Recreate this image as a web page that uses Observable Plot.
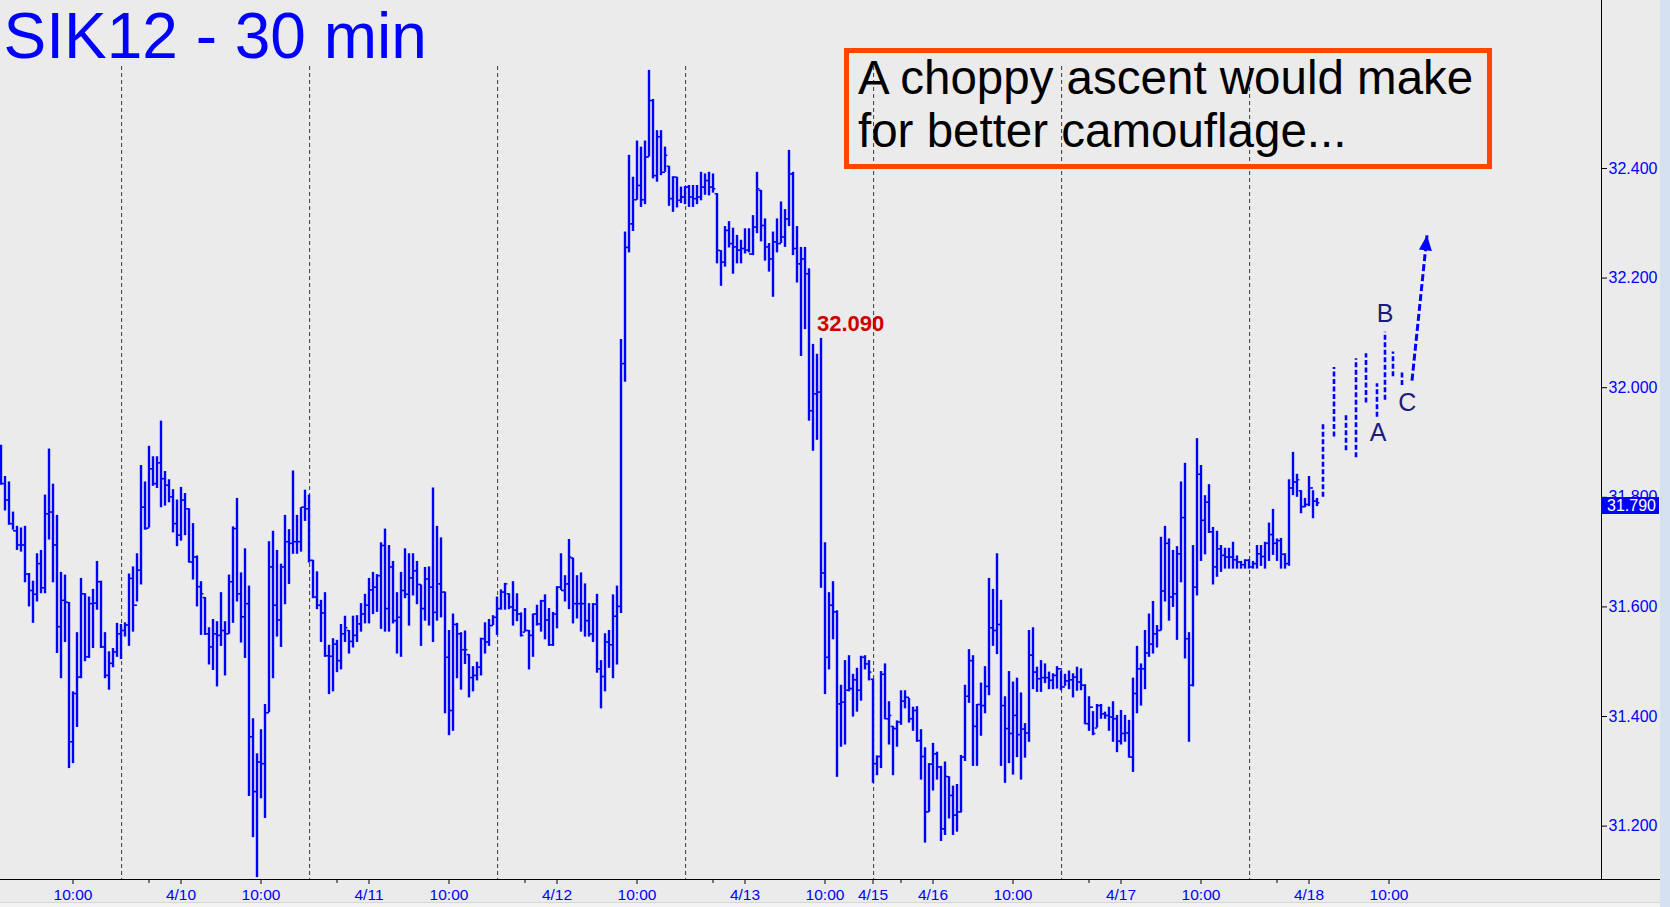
<!DOCTYPE html>
<html>
<head>
<meta charset="utf-8">
<script src="https://cdn.jsdelivr.net/npm/d3@7"></script>
<script src="https://cdn.jsdelivr.net/npm/@observablehq/plot@0.6"></script>
<style>
  html, body { margin: 0; padding: 0; background: #ebebeb; overflow: hidden; }
  #wrap { position: relative; width: 1670px; height: 907px; font-family: "Liberation Sans", Arial, sans-serif; }
  #wrap svg { position: absolute; left: 0; top: 0; }
  .deco { position: absolute; }
  #note { position: absolute; left: 844px; top: 48px; width: 648px; height: 121px; box-sizing: border-box;
          border: 5px solid #ff4500; }
  #noteText { position: absolute; left: 9px; top: -2px; font-size: 47.5px; line-height: 53px; color: #000; white-space: nowrap; }
  #price { position: absolute; left: 1601px; width: 58px; height: 17px; background: #0000ff; color: #fff;
           font-size: 16px; line-height: 17px; padding-left: 6px; box-sizing: border-box; }
</style>
</head>
<body>
<div id="wrap"></div>
<script>
// ---------- DATA ----------
const title = "SIK12 - 30 min";
const noteLines = ["A choppy ascent would make", "for better camouflage..."];

const highs = [
31.895,31.838,31.828,31.773,31.747,31.744,31.747,31.661,31.647,31.697,
31.703,31.804,31.888,31.824,31.767,31.663,31.658,31.608,31.445,31.553,
31.652,31.624,31.618,31.632,31.683,31.647,31.553,31.518,31.524,31.570,
31.568,31.571,31.660,31.673,31.697,31.858,31.828,31.893,31.874,31.874,
31.939,31.847,31.832,31.814,31.795,31.818,31.807,31.779,31.752,31.693,
31.646,31.617,31.562,31.577,31.573,31.626,31.573,31.658,31.746,31.798,
31.662,31.706,31.638,31.396,31.332,31.376,31.422,31.719,31.738,31.703,
31.678,31.767,31.741,31.848,31.767,31.781,31.813,31.804,31.685,31.664,
31.612,31.626,31.530,31.542,31.539,31.568,31.583,31.557,31.583,31.584,
31.606,31.623,31.652,31.663,31.659,31.717,31.742,31.712,31.683,31.626,
31.663,31.706,31.697,31.697,31.683,31.640,31.672,31.673,31.817,31.747,
31.726,31.627,31.557,31.587,31.570,31.553,31.556,31.513,31.491,31.499,
31.543,31.571,31.577,31.584,31.618,31.631,31.643,31.624,31.646,31.624,
31.589,31.597,31.557,31.587,31.603,31.612,31.622,31.597,31.590,31.637,
31.697,31.657,31.723,31.689,31.657,31.662,31.642,31.606,31.606,31.623,
31.502,31.551,31.557,31.622,31.638,32.088,32.284,32.424,32.384,32.450,
32.439,32.450,32.579,32.526,32.469,32.469,32.439,32.404,32.385,32.384,
32.366,32.367,32.369,32.369,32.369,32.393,32.390,32.393,32.390,32.354,
32.250,32.294,32.303,32.291,32.278,32.269,32.290,32.290,32.314,32.393,
32.360,32.308,32.263,32.284,32.308,32.339,32.325,32.433,32.393,32.294,
32.256,32.256,32.217,32.079,32.061,32.090,31.717,31.626,31.646,31.593,
31.457,31.502,31.511,31.477,31.488,31.510,31.511,31.502,31.468,31.328,
31.482,31.496,31.427,31.382,31.392,31.447,31.447,31.433,31.417,31.418,
31.376,31.343,31.314,31.351,31.335,31.309,31.317,31.290,31.273,31.276,
31.329,31.457,31.522,31.511,31.422,31.461,31.491,31.652,31.632,31.697,
31.612,31.436,31.482,31.463,31.470,31.443,31.387,31.557,31.562,31.490,
31.502,31.496,31.481,31.478,31.491,31.483,31.477,31.483,31.478,31.490,
31.487,31.458,31.436,31.409,31.422,31.422,31.408,31.417,31.427,31.402,
31.411,31.402,31.393,31.470,31.528,31.496,31.557,31.587,31.610,31.566,
31.727,31.747,31.724,31.703,31.710,31.828,31.862,31.553,31.712,31.907,
31.858,31.803,31.823,31.745,31.738,31.712,31.707,31.707,31.718,31.693,
31.683,31.686,31.686,31.683,31.712,31.712,31.718,31.753,31.778,31.724,
31.725,31.697,31.832,31.882,31.842,31.812,31.798,31.838,31.812,31.798];

const lows = [
31.822,31.775,31.749,31.740,31.703,31.700,31.644,31.600,31.570,31.609,
31.624,31.624,31.722,31.644,31.515,31.469,31.535,31.305,31.314,31.380,
31.469,31.500,31.506,31.524,31.594,31.524,31.469,31.448,31.489,31.508,
31.504,31.545,31.528,31.554,31.609,31.640,31.740,31.744,31.820,31.816,
31.781,31.784,31.790,31.735,31.710,31.720,31.730,31.680,31.649,31.600,
31.548,31.548,31.494,31.484,31.454,31.528,31.474,31.550,31.570,31.609,
31.534,31.506,31.254,31.179,31.106,31.250,31.214,31.407,31.469,31.545,
31.526,31.604,31.641,31.696,31.696,31.700,31.756,31.680,31.615,31.595,
31.535,31.508,31.440,31.445,31.480,31.485,31.535,31.514,31.525,31.535,
31.554,31.569,31.569,31.586,31.590,31.559,31.554,31.554,31.569,31.514,
31.508,31.615,31.565,31.620,31.604,31.528,31.574,31.565,31.535,31.574,
31.580,31.405,31.365,31.373,31.469,31.448,31.495,31.434,31.445,31.465,
31.474,31.514,31.528,31.566,31.548,31.594,31.594,31.595,31.565,31.573,
31.545,31.554,31.485,31.508,31.565,31.554,31.540,31.528,31.528,31.560,
31.630,31.609,31.595,31.569,31.578,31.554,31.545,31.545,31.535,31.479,
31.414,31.445,31.488,31.469,31.494,31.588,32.010,32.246,32.285,32.342,
32.329,32.334,32.421,32.381,32.375,32.387,32.393,32.331,32.320,32.328,
32.336,32.334,32.329,32.329,32.334,32.341,32.351,32.350,32.355,32.226,
32.185,32.220,32.255,32.207,32.226,32.226,32.244,32.246,32.241,32.281,
32.266,32.231,32.211,32.165,32.246,32.263,32.256,32.294,32.241,32.191,
32.057,32.106,31.939,31.884,31.904,31.634,31.440,31.485,31.540,31.289,
31.344,31.348,31.445,31.399,31.408,31.428,31.485,31.465,31.278,31.292,
31.305,31.394,31.348,31.292,31.344,31.384,31.414,31.388,31.373,31.353,
31.284,31.169,31.225,31.264,31.284,31.172,31.183,31.213,31.183,31.189,
31.224,31.318,31.424,31.309,31.309,31.364,31.405,31.438,31.528,31.513,
31.309,31.278,31.314,31.293,31.325,31.284,31.324,31.353,31.449,31.444,
31.444,31.460,31.449,31.449,31.450,31.447,31.455,31.449,31.434,31.446,
31.447,31.385,31.373,31.365,31.379,31.395,31.395,31.373,31.353,31.334,
31.348,31.353,31.324,31.298,31.405,31.419,31.449,31.508,31.514,31.525,
31.556,31.609,31.574,31.599,31.539,31.644,31.505,31.353,31.454,31.620,
31.683,31.695,31.734,31.640,31.654,31.663,31.669,31.669,31.669,31.669,
31.669,31.669,31.669,31.669,31.669,31.674,31.669,31.683,31.694,31.683,
31.669,31.669,31.674,31.803,31.800,31.770,31.781,31.783,31.761,31.783];

const opens = [
31.860,31.825,31.795,31.752,31.739,31.713,31.713,31.660,31.630,31.623,
31.679,31.635,31.770,31.773,31.713,31.564,31.612,31.608,31.354,31.442,
31.472,31.624,31.509,31.606,31.607,31.646,31.527,31.475,31.497,31.518,
31.551,31.557,31.567,31.652,31.603,31.667,31.782,31.744,31.852,31.825,
31.863,31.834,31.822,31.801,31.752,31.731,31.795,31.779,31.682,31.691,
31.637,31.617,31.551,31.527,31.551,31.548,31.557,31.551,31.646,31.743,
31.624,31.582,31.606,31.363,31.263,31.317,31.314,31.407,31.673,31.603,
31.576,31.673,31.719,31.716,31.719,31.719,31.782,31.779,31.685,31.618,
31.603,31.589,31.511,31.510,31.532,31.502,31.551,31.557,31.537,31.548,
31.569,31.587,31.603,31.631,31.636,31.657,31.712,31.597,31.673,31.575,
31.581,31.630,31.623,31.653,31.666,31.641,31.597,31.651,31.636,31.590,
31.642,31.627,31.508,31.411,31.568,31.551,31.522,31.513,31.471,31.475,
31.490,31.542,31.536,31.566,31.581,31.597,31.627,31.624,31.600,31.594,
31.587,31.554,31.557,31.548,31.587,31.569,31.611,31.576,31.531,31.587,
31.636,31.630,31.642,31.689,31.606,31.606,31.606,31.575,31.551,31.605,
31.487,31.473,31.536,31.531,31.583,31.601,32.044,32.256,32.299,32.343,
32.369,32.343,32.421,32.524,32.387,32.458,32.393,32.404,32.345,32.384,
32.342,32.348,32.366,32.348,32.345,32.348,32.366,32.378,32.366,32.354,
32.250,32.229,32.287,32.263,32.257,32.251,32.254,32.251,32.244,32.293,
32.360,32.296,32.257,32.235,32.266,32.263,32.275,32.308,32.390,32.254,
32.226,32.235,32.208,31.958,31.989,31.992,31.662,31.508,31.603,31.591,
31.423,31.426,31.448,31.451,31.467,31.448,31.508,31.496,31.468,31.314,
31.327,31.477,31.396,31.382,31.378,31.390,31.428,31.435,31.396,31.411,
31.356,31.327,31.226,31.313,31.332,31.308,31.195,31.290,31.256,31.220,
31.226,31.326,31.437,31.502,31.382,31.422,31.420,31.455,31.562,31.557,
31.568,31.420,31.378,31.369,31.402,31.367,31.377,31.370,31.512,31.481,
31.469,31.471,31.471,31.466,31.475,31.487,31.454,31.465,31.467,31.472,
31.463,31.457,31.387,31.417,31.379,31.420,31.405,31.402,31.399,31.396,
31.355,31.369,31.370,31.326,31.442,31.487,31.487,31.516,31.532,31.551,
31.557,31.629,31.716,31.618,31.624,31.697,31.763,31.542,31.457,31.636,
31.842,31.758,31.791,31.737,31.673,31.706,31.694,31.691,31.691,31.686,
31.682,31.677,31.685,31.673,31.679,31.697,31.692,31.716,31.732,31.716,
31.721,31.696,31.679,31.817,31.828,31.812,31.783,31.787,31.817,31.793];

const closes = [
31.825,31.795,31.752,31.739,31.713,31.713,31.660,31.630,31.623,31.679,
31.635,31.770,31.773,31.713,31.564,31.612,31.609,31.354,31.442,31.472,
31.624,31.509,31.606,31.607,31.646,31.527,31.475,31.497,31.518,31.551,
31.557,31.567,31.652,31.603,31.667,31.782,31.743,31.852,31.825,31.863,
31.834,31.822,31.801,31.752,31.731,31.795,31.779,31.682,31.691,31.637,
31.624,31.551,31.527,31.551,31.548,31.557,31.551,31.646,31.743,31.624,
31.582,31.606,31.363,31.263,31.317,31.314,31.407,31.673,31.603,31.576,
31.673,31.719,31.716,31.719,31.719,31.782,31.779,31.685,31.618,31.603,
31.589,31.511,31.510,31.532,31.502,31.551,31.562,31.537,31.548,31.569,
31.587,31.603,31.631,31.636,31.657,31.712,31.597,31.673,31.575,31.581,
31.630,31.623,31.653,31.666,31.641,31.597,31.651,31.636,31.590,31.642,
31.627,31.508,31.411,31.568,31.551,31.522,31.522,31.471,31.475,31.490,
31.542,31.536,31.566,31.581,31.597,31.627,31.642,31.600,31.594,31.587,
31.548,31.557,31.548,31.587,31.569,31.611,31.576,31.531,31.587,31.636,
31.630,31.642,31.691,31.606,31.606,31.606,31.575,31.551,31.605,31.487,
31.473,31.536,31.531,31.583,31.601,32.044,32.256,32.299,32.343,32.369,
32.343,32.421,32.524,32.387,32.458,32.393,32.424,32.345,32.384,32.342,
32.348,32.366,32.348,32.345,32.348,32.366,32.378,32.366,32.363,32.251,
32.229,32.287,32.263,32.257,32.251,32.254,32.251,32.244,32.293,32.363,
32.296,32.257,32.235,32.266,32.263,32.275,32.308,32.390,32.254,32.226,
32.235,32.208,31.958,31.989,31.992,31.662,31.508,31.603,31.591,31.423,
31.426,31.448,31.451,31.467,31.448,31.508,31.496,31.481,31.314,31.327,
31.477,31.396,31.402,31.378,31.390,31.428,31.435,31.396,31.411,31.356,
31.327,31.226,31.313,31.332,31.308,31.195,31.291,31.256,31.220,31.226,
31.326,31.437,31.502,31.382,31.422,31.420,31.455,31.562,31.557,31.568,
31.420,31.378,31.369,31.402,31.367,31.377,31.370,31.512,31.481,31.469,
31.471,31.471,31.466,31.475,31.487,31.454,31.465,31.467,31.472,31.463,
31.457,31.387,31.417,31.369,31.420,31.405,31.402,31.399,31.396,31.355,
31.369,31.370,31.326,31.442,31.487,31.487,31.516,31.532,31.551,31.557,
31.629,31.716,31.618,31.624,31.697,31.763,31.542,31.457,31.636,31.842,
31.758,31.791,31.737,31.673,31.706,31.694,31.691,31.691,31.686,31.682,
31.677,31.685,31.673,31.679,31.697,31.692,31.716,31.732,31.716,31.721,
31.696,31.679,31.817,31.828,31.832,31.783,31.787,31.817,31.793,31.790];

// hand-drawn projected bars (dashed)
const projX    = [330.5, 333.25, 336.25, 338.75, 341.25, 344, 346, 348, 350.25];
const projHigh = [31.934, 32.037, 31.953, 32.053, 32.062, 32.007, 32.101, 32.065, 32.031];
const projLow  = [31.800, 31.910, 31.885, 31.872, 31.972, 31.946, 31.977, 32.020, 32.004];
// projected arrow: start -> tip
const arrowX = [352.75, 356.5];
const arrowY = [32.013, 32.278];

// wave labels
const waveLabels = ["A", "B", "C"];
const waveX = [344.3, 346, 351.55];
const waveY = [31.902, 32.120, 31.958];

// highlighted price
const markText = "32.090";
const markX = 204;
const markY = 32.104;

// axes
const yTicks = [31.2, 31.4, 31.6, 31.8, 32.0, 32.2, 32.4];
const xTickPos = [18, 45, 65, 92, 112, 139, 159, 186, 206, 218, 233, 253, 280, 300, 327, 347];
const xTickLab = ["10:00","4/10","10:00","4/11","10:00","4/12","10:00","4/13","10:00","4/15","4/16","10:00","4/17","10:00","4/18","10:00"];
const xMinorTicks = [37, 84, 131, 178, 225, 272, 319];
const sessionBreaks = [30.15, 77.15, 124.15, 171.15, 218.15, 265.15, 312.15];

// ---------- BUILD ----------
const bars = highs.map((h, i) => ({i, high: h, low: lows[i], open: opens[i], close: closes[i]}));
const proj = projX.map((x, k) => ({x, high: projHigh[k], low: projLow[k]}));
const arrow = [{x1: arrowX[0], y1: arrowY[0], x2: arrowX[1], y2: arrowY[1]}];
const waves = waveLabels.map((t, k) => ({t, x: waveX[k], y: waveY[k]}));
const labelOf = new Map(xTickPos.map((p, k) => [p, xTickLab[k]]));

const blue = "#0000ff";
const arrowHead = {
  draw(ctx) { ctx.moveTo(0, 0); ctx.lineTo(-6.5, 15); ctx.lineTo(6.5, 15); ctx.closePath(); }
};

const chart = Plot.plot({
  width: 1670, height: 907,
  marginLeft: 0, marginRight: 69, marginTop: 66, marginBottom: 28,
  style: {background: "transparent", fontFamily: "'Liberation Sans', Arial, sans-serif", overflow: "visible"},
  x: {type: "linear", domain: [-0.125, 400.125]},
  y: {type: "linear", domain: [31.1026, 32.5861]},
  marks: [
    Plot.ruleX(sessionBreaks, {stroke: "#3c3c3c", strokeWidth: 1, strokeDasharray: "4,3"}),
    Plot.ruleX(bars, {x: "i", y1: "low", y2: "high", stroke: blue, strokeWidth: 2.4}),
    Plot.link(bars, {x1: d => d.i - 0.6, x2: "i", y1: "open", y2: "open", stroke: blue, strokeWidth: 1.5}),
    Plot.link(bars, {x1: "i", x2: d => d.i + 0.6, y1: "close", y2: "close", stroke: blue, strokeWidth: 1.5}),
    Plot.ruleX(proj, {x: "x", y1: "low", y2: "high", stroke: blue, strokeWidth: 2.6, strokeDasharray: "5,2.5"}),
    Plot.link(arrow, {x1: "x1", y1: "y1", x2: "x2", y2: "y2", stroke: blue, strokeWidth: 3, strokeDasharray: "7,3"}),
    Plot.dot([arrow[0]], {x: "x2", y: "y2", symbol: arrowHead, fill: blue, stroke: "none", rotate: 6}),
    Plot.text(waves, {x: "x", y: "y", text: "t", fill: "#1c1c7c", fontSize: 25, textAnchor: "middle", lineAnchor: "bottom"}),
    Plot.text([markText], {x: () => markX, y: () => markY, text: d => d, fill: "#cc0000", fontSize: 22,
      fontWeight: "bold", textAnchor: "start", lineAnchor: "bottom"}),
    Plot.text([title], {frameAnchor: "top-left", text: d => d, dx: 3, dy: -9, textAnchor: "start",
      lineAnchor: "bottom", fontSize: 64, fill: blue}),
    Plot.axisY(yTicks, {anchor: "right", tickSize: 5, tickPadding: 2, tickFormat: d3.format(".3f"),
      fontSize: 16, fill: blue, stroke: "#000", label: null}),
    Plot.axisX(xTickPos, {anchor: "bottom", tickSize: 5, tickPadding: 4, tickFormat: d => labelOf.get(d),
      fontSize: 15.5, fill: blue, stroke: "#000", label: null}),
    Plot.axisX(xMinorTicks, {anchor: "bottom", tickSize: 4, tickFormat: () => "", stroke: "#000", label: null})
  ]
});

const wrap = document.getElementById("wrap");
wrap.appendChild(chart);

function deco(style) {
  const d = document.createElement("div");
  d.className = "deco";
  Object.assign(d.style, style);
  wrap.appendChild(d);
  return d;
}
// frame lines, bottom band, right strip
deco({left: "1601px", top: "0px", width: "1px", height: "880px", background: "#000"});
deco({left: "0px", top: "879px", width: "1660px", height: "1px", background: "#000"});
deco({left: "0px", top: "902px", width: "1660px", height: "5px", background: "#f3f3f3", borderTop: "1px solid #d6d6d6"});
deco({left: "1660px", top: "0px", width: "10px", height: "907px", background: "#d5e1f1"});

// annotation box
const note = document.createElement("div");
note.id = "note";
const nt = document.createElement("div");
nt.id = "noteText";
nt.innerHTML = noteLines.join("<br>");
note.appendChild(nt);
wrap.appendChild(note);

// last price marker on the right axis
const yScale = chart.scale("y");
const last = closes[closes.length - 1];
const price = document.createElement("div");
price.id = "price";
price.textContent = d3.format(".3f")(last);
price.style.top = (yScale.apply(last) - 5.5) + "px";
wrap.appendChild(price);
</script>
</body>
</html>
